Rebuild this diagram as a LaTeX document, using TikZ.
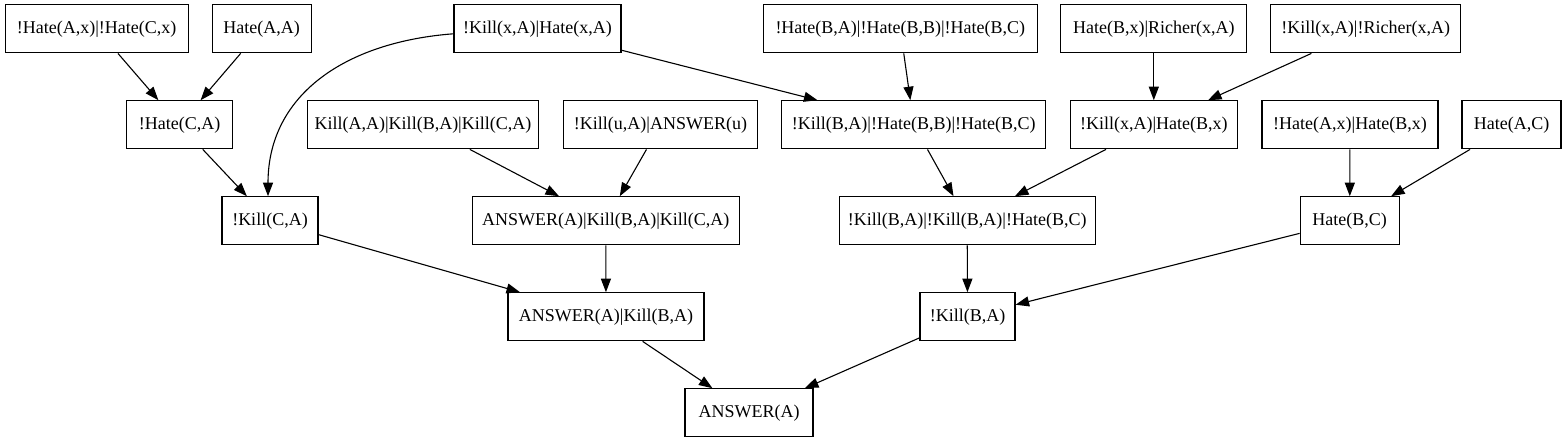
\documentclass[tikz,border=0pt]{standalone}
\usepackage{fontspec}
\setmainfont{Liberation Serif}
\usetikzlibrary{arrows.meta}
\begin{document}
\begin{tikzpicture}[x=1pt,y=-1pt,
  box/.style={draw, line width=1.2pt, rectangle, inner sep=0pt, minimum height=48pt, font=\fontsize{18}{20}\selectfont},
  edge/.style={line width=1.1pt, -{Triangle[length=13.5pt,width=10pt]}}]
\useasboundingbox (0,0) rectangle (1566,443);
% row 1
\node[box, minimum width=183pt] (a1) at (96.7,28.8) {!Hate(A,x)|!Hate(C,x)};
\node[box, minimum width=99pt]  (a2) at (261.7,28.8) {Hate(A,A)};
\node[box, minimum width=167pt] (a3) at (537.5,28.8) {!Kill(x,A)|Hate(x,A)};
\node[box, minimum width=274pt] (a4) at (900.3,28.8) {!Hate(B,A)|!Hate(B,B)|!Hate(B,C)};
\node[box, minimum width=186pt] (a5) at (1153.8,28.8) {Hate(B,x)|Richer(x,A)};
\node[box, minimum width=190pt] (a6) at (1365.7,28.8) {!Kill(x,A)|!Richer(x,A)};
% row 2
\node[box, minimum width=106pt] (b1) at (179.6,124.8) {!Hate(C,A)};
\node[box, minimum width=231pt] (b2) at (423,124.8) {Kill(A,A)|Kill(B,A)|Kill(C,A)};
\node[box, minimum width=194pt] (b3) at (660.5,124.8) {!Kill(u,A)|ANSWER(u)};
\node[box, minimum width=264pt] (b4) at (913.8,124.8) {!Kill(B,A)|!Hate(B,B)|!Hate(B,C)};
\node[box, minimum width=167pt] (b5) at (1153.8,124.8) {!Kill(x,A)|Hate(B,x)};
\node[box, minimum width=176pt] (b6) at (1350,124.8) {!Hate(A,x)|Hate(B,x)};
\node[box, minimum width=99pt]  (b7) at (1511.5,124.8) {Hate(A,C)};
% row 3
\node[box, minimum width=96pt]  (c1) at (270,220.8) {!Kill(C,A)};
\node[box, minimum width=267pt] (c2) at (605.8,220.8) {ANSWER(A)|Kill(B,A)|Kill(C,A)};
\node[box, minimum width=256pt] (c3) at (967.2,220.8) {!Kill(B,A)|!Kill(B,A)|!Hate(B,C)};
\node[box, minimum width=99pt]  (c4) at (1349.7,220.8) {Hate(B,C)};
% row 4
\node[box, minimum width=196pt] (d1) at (606,316.8) {ANSWER(A)|Kill(B,A)};
\node[box, minimum width=95pt]  (d2) at (967.5,316.8) {!Kill(B,A)};
% row 5
\node[box, minimum width=128pt] (e1) at (749,412.8) {ANSWER(A)};
% edges
\draw[edge] (a1) -- (b1);
\draw[edge] (a2) -- (b1);
\draw[edge] ([yshift=-5pt]a3.west) .. controls (345,42) and (268,95) .. ([xshift=-2pt]c1.north);
\draw[edge] (a3) -- (b4);
\draw[edge] (a4) -- (b4);
\draw[edge] (a5) -- (b5);
\draw[edge] (a6) -- (b5);
\draw[edge] (b1) -- (c1);
\draw[edge] (b2) -- (c2);
\draw[edge] (b3) -- (c2);
\draw[edge] (b4) -- (c3);
\draw[edge] (b5) -- (c3);
\draw[edge] (b6) -- (c4);
\draw[edge] (b7) -- (c4);
\draw[edge] (c1) -- (d1);
\draw[edge] (c2) -- (d1);
\draw[edge] (c3) -- (d2);
\draw[edge] (c4) -- (d2);
\draw[edge] (d1) -- (e1);
\draw[edge] (d2) -- (e1);
\end{tikzpicture}
\end{document}
